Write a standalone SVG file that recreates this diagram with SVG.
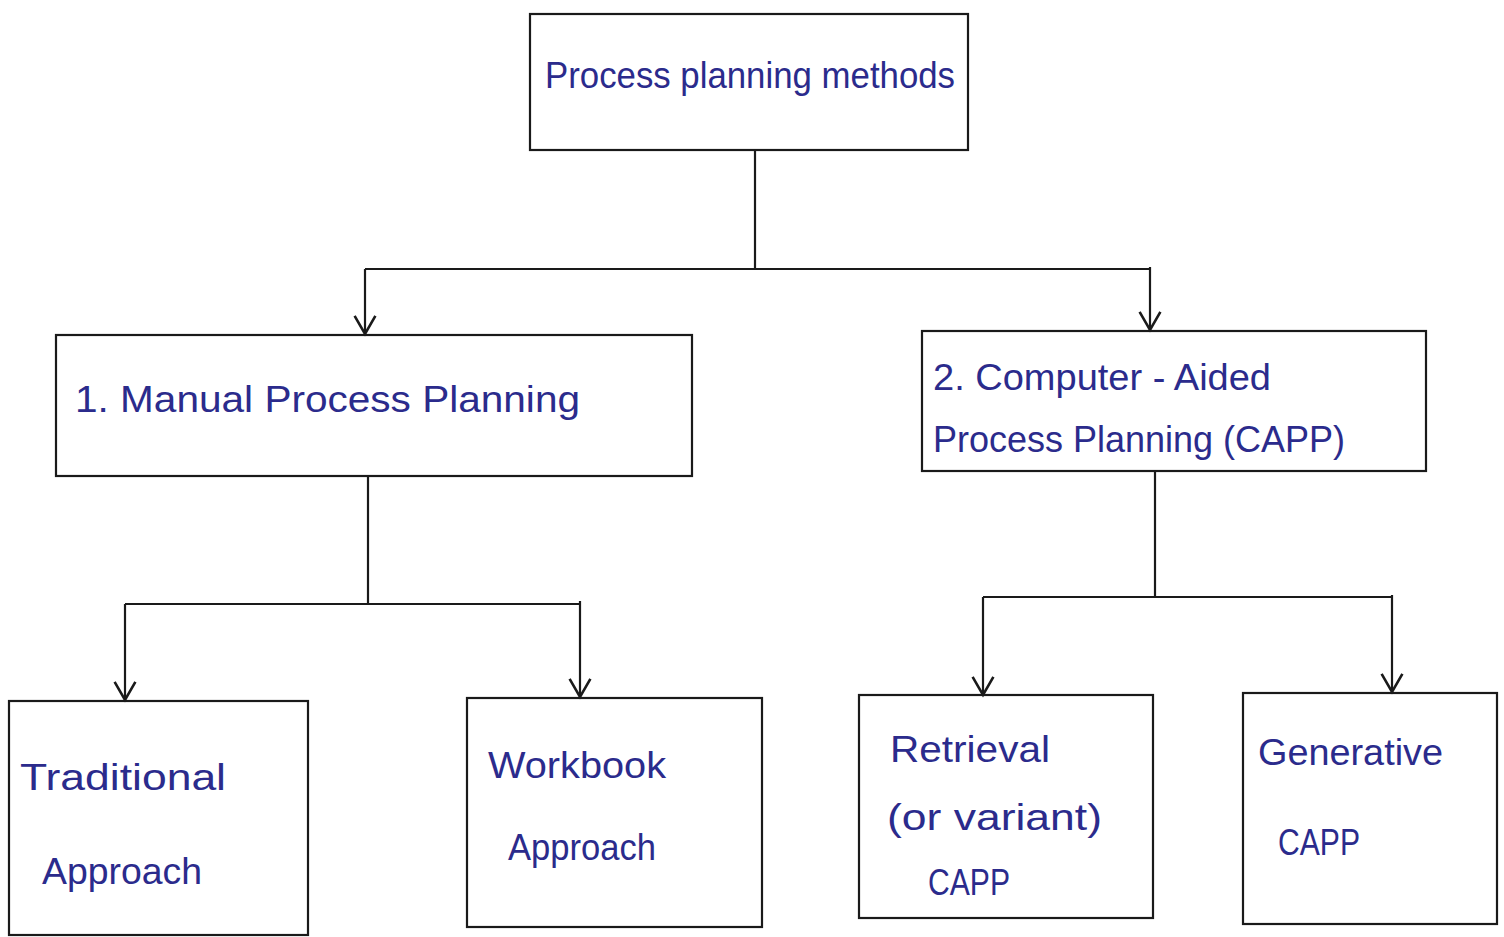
<svg xmlns="http://www.w3.org/2000/svg" width="1504" height="937" viewBox="0 0 1504 937">
  <style>
    .box { fill: none; stroke: #1a1a1a; stroke-width: 2.2; }
    .wire { fill: none; stroke: #1a1a1a; stroke-width: 2.2; }
    .lbl { font-family: "Liberation Sans", "DejaVu Sans", sans-serif; fill: #2b2b8c; font-size: 36px; }
  </style>
  <defs>
    <!-- open V arrowhead, drawn along +x so orient="auto" follows the line -->
    <marker id="vee" viewBox="0 0 20 20" refX="18" refY="10" markerWidth="26" markerHeight="26" markerUnits="userSpaceOnUse" orient="auto">
      <polyline points="4,2 18,10 4,18" fill="none" stroke="#1a1a1a" stroke-width="2"/>
    </marker>
  </defs>
  <rect width="1504" height="937" fill="#ffffff"/>

  <g id="connectors">
    <!-- root to level 1 -->
    <path class="wire" d="M755,150 V268"/>
    <path class="wire" d="M365,269 H1150"/>
    <path class="wire" d="M365,269 V334" marker-end="url(#vee)"/>
    <path class="wire" d="M1150,267 V330" marker-end="url(#vee)"/>
    <!-- manual to its approaches -->
    <path class="wire" d="M368,476 V603"/>
    <path class="wire" d="M125,604 H580"/>
    <path class="wire" d="M125,604 V700" marker-end="url(#vee)"/>
    <path class="wire" d="M580,601 V697" marker-end="url(#vee)"/>
    <!-- CAPP to its types -->
    <path class="wire" d="M1155,470 V597"/>
    <path class="wire" d="M983,597 H1392"/>
    <path class="wire" d="M983,597 V695" marker-end="url(#vee)"/>
    <path class="wire" d="M1392,595 V692" marker-end="url(#vee)"/>
  </g>

  <g id="node-root">
    <rect class="box" x="530" y="14" width="438" height="136"/>
    <text class="lbl" x="545" y="88" textLength="410" lengthAdjust="spacingAndGlyphs">Process planning methods</text>
  </g>

  <g id="node-manual">
    <rect class="box" x="56" y="335" width="636" height="141"/>
    <text class="lbl" x="75" y="412" textLength="505" lengthAdjust="spacingAndGlyphs">1. Manual Process Planning</text>
  </g>

  <g id="node-capp">
    <rect class="box" x="922" y="331" width="504" height="140"/>
    <text class="lbl" x="933" y="390" textLength="338" lengthAdjust="spacingAndGlyphs">2. Computer - Aided</text>
    <text class="lbl" x="933" y="452" textLength="412" lengthAdjust="spacingAndGlyphs">Process Planning (CAPP)</text>
  </g>

  <g id="node-traditional">
    <rect class="box" x="9" y="701" width="299" height="234"/>
    <text class="lbl" x="20" y="790" textLength="206" lengthAdjust="spacingAndGlyphs">Traditional</text>
    <text class="lbl" x="42" y="884" textLength="160" lengthAdjust="spacingAndGlyphs">Approach</text>
  </g>

  <g id="node-workbook">
    <rect class="box" x="467" y="698" width="295" height="229"/>
    <text class="lbl" x="488" y="778" textLength="178" lengthAdjust="spacingAndGlyphs">Workbook</text>
    <text class="lbl" x="508" y="860" textLength="148" lengthAdjust="spacingAndGlyphs">Approach</text>
  </g>

  <g id="node-retrieval">
    <rect class="box" x="859" y="695" width="294" height="223"/>
    <text class="lbl" x="890" y="762" textLength="160" lengthAdjust="spacingAndGlyphs">Retrieval</text>
    <text class="lbl" x="887" y="830" textLength="215" lengthAdjust="spacingAndGlyphs">(or  variant)</text>
    <text class="lbl" x="928" y="895" font-size="30" textLength="82" lengthAdjust="spacingAndGlyphs">CAPP</text>
  </g>

  <g id="node-generative">
    <rect class="box" x="1243" y="693" width="254" height="231"/>
    <text class="lbl" x="1258" y="765" textLength="185" lengthAdjust="spacingAndGlyphs">Generative</text>
    <text class="lbl" x="1278" y="855" font-size="30" textLength="82" lengthAdjust="spacingAndGlyphs">CAPP</text>
  </g>
</svg>
